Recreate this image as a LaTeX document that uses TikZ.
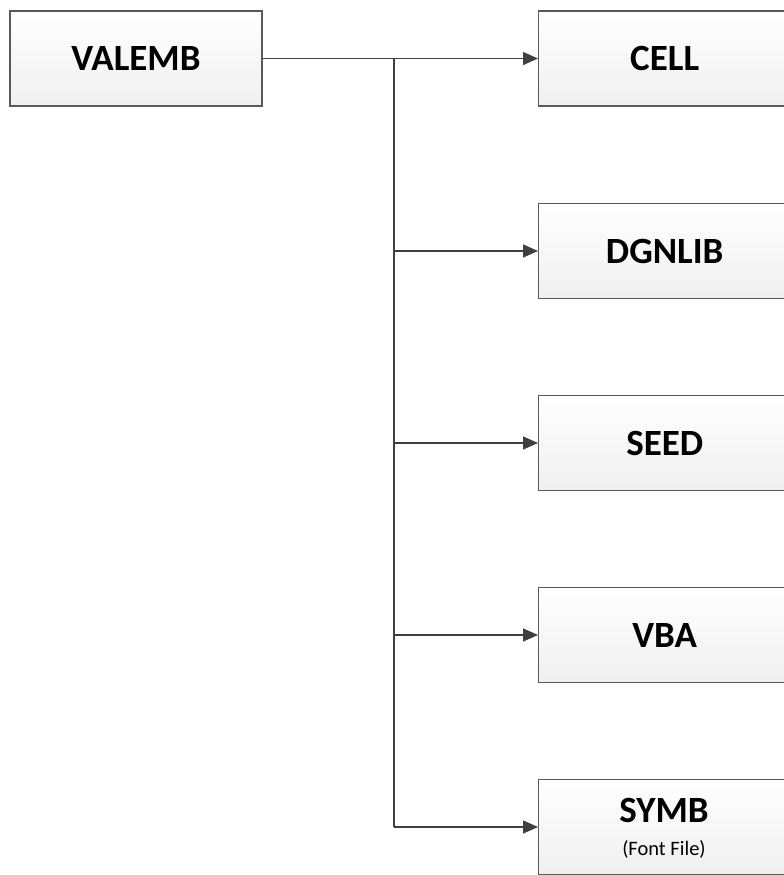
\documentclass[tikz,border=0pt]{standalone}
\usepackage{fontspec}
\setmainfont{Carlito}
\usetikzlibrary{arrows.meta}
\definecolor{boxline}{HTML}{5A5A5A}
\definecolor{connline}{HTML}{404040}
\begin{document}
\begin{tikzpicture}[x=1pt,y=1pt,
  box/.style={draw=boxline, line width=1.4pt, top color=white, bottom color=black!6,
    minimum width=252pt, minimum height=95pt, inner sep=0pt, align=center,
    font=\fontsize{37}{40}\selectfont\bfseries},
  title/.style={inner sep=0pt, anchor=base, font=\fontsize{37}{40}\selectfont\bfseries},
  subtitle/.style={inner sep=0pt, anchor=base, font=\fontsize{20.5}{22}\selectfont},
  conn/.style={draw=connline, line width=1.3pt},
  arr/.style={conn, -{Triangle[length=15pt,width=13pt]}}]
\useasboundingbox (0,0) rectangle (784,-875);
\clip (0,0) rectangle (784,-875);
\fill[white] (0,0) rectangle (784,-875);
\node[box] (valemb) at (136,-58.5) {VALEMB};
\node[box, anchor=west] (cell) at (538,-58.5) {CELL};
\node[box, anchor=west] (dgnlib) at (538,-251) {DGNLIB};
\node[box, anchor=west] (seed) at (538,-443) {SEED};
\node[box, anchor=west] (vba) at (538,-635) {VBA};
\node[box, anchor=west] (symb) at (538,-827) {};
\node[title] (symbtitle) at (664,-822) {SYMB};
\node[subtitle] (symbsub) at (664,-855) {(Font File)};
\coordinate (trunk) at (394,-58.5);
\draw[arr] (valemb.east) -- (cell.west);
\draw[conn] (trunk) -- (trunk |- symb.west);
\draw[arr] (trunk |- dgnlib.west) -- (dgnlib.west);
\draw[arr] (trunk |- seed.west) -- (seed.west);
\draw[arr] (trunk |- vba.west) -- (vba.west);
\draw[arr] (trunk |- symb.west) -- (symb.west);
\end{tikzpicture}
\end{document}
